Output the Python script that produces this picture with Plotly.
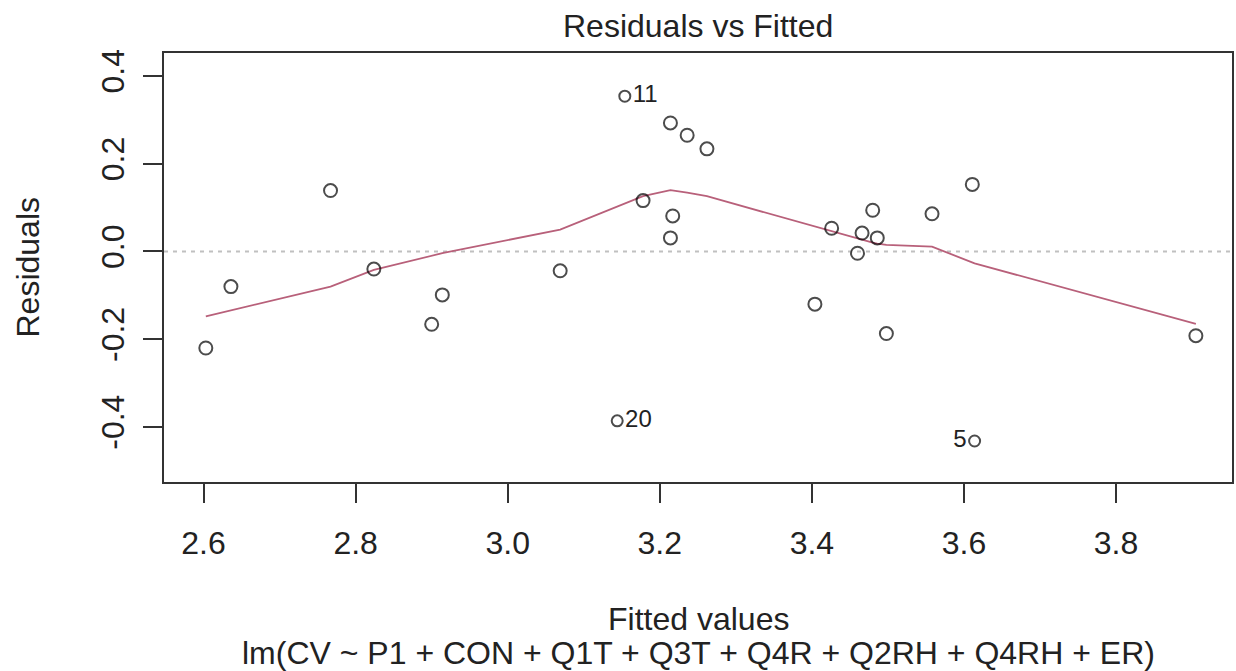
import plotly.graph_objects as go

# ---- data ----
fitted = [2.603, 2.636, 2.767, 2.824, 2.900, 2.914, 3.069, 3.144, 3.154, 3.178,
          3.214, 3.217, 3.214, 3.236, 3.262, 3.404, 3.426, 3.460, 3.466, 3.480,
          3.486, 3.498, 3.558, 3.611, 3.614, 3.905]
residuals = [-0.220, -0.080, 0.139, -0.040, -0.166, -0.099, -0.044, -0.386, 0.354, 0.116,
             0.293, 0.081, 0.031, 0.265, 0.234, -0.120, 0.053, -0.004, 0.042, 0.094,
             0.031, -0.187, 0.086, 0.153, -0.432, -0.192]
point_ids = ["", "", "", "", "", "", "", "20", "11", "",
             "", "", "", "", "", "", "", "", "", "",
             "", "", "", "", "5", ""]
smooth_y = [-0.148, -0.134, -0.080, -0.042, -0.009, -0.004, 0.050, 0.102, 0.109, 0.126,
            0.140, 0.140, 0.139, 0.134, 0.126, 0.056, 0.046, 0.029, 0.027, 0.020,
            0.018, 0.015, 0.011, -0.025, -0.027, -0.165]
x_ticks = [2.6, 2.8, 3.0, 3.2, 3.4, 3.6, 3.8]
x_tick_labels = ["2.6", "2.8", "3.0", "3.2", "3.4", "3.6", "3.8"]
y_ticks = [-0.4, -0.2, 0.0, 0.2, 0.4]
y_tick_labels = ["-0.4", "-0.2", "0.0", "0.2", "0.4"]
title = "Residuals vs Fitted"
x_title = "Fitted values"
x_subtitle = "lm(CV ~ P1 + CON + Q1T + Q3T + Q4R + Q2RH + Q4RH + ER)"
y_title = "Residuals"

FONT = "Liberation Sans, Arial, sans-serif"
INK = "#222222"
W, H = 1236, 671
L, R, T, B = 164, 4, 53, 189
plot_h = H - T - B

smooth_x = sorted(fitted)

fig = go.Figure()

# zero reference line
fig.add_shape(type="line", xref="paper", yref="y", x0=0, x1=1, y0=0, y1=0,
              line=dict(color="#C0C0C0", width=2, dash="4px,5px"), layer="below")

# smoother
fig.add_trace(go.Scatter(x=smooth_x, y=smooth_y, mode="lines",
                         line=dict(color="#B8607A", width=1.8),
                         hoverinfo="skip", showlegend=False))

# points
sizes = [11 if t else 13 for t in point_ids]
positions = ["middle left" if (t and x > 3.4) else "middle right" for t, x in zip(point_ids, fitted)]
fig.add_trace(go.Scatter(x=fitted, y=residuals, mode="markers+text",
                         text=point_ids, textposition=positions,
                         textfont=dict(family=FONT, size=24, color=INK),
                         marker=dict(symbol="circle-open", size=sizes, color="black",
                                     line=dict(width=2, color="black")),
                         showlegend=False))

axis_common = dict(showgrid=False, zeroline=False, showline=True, mirror=True,
                   automargin=False,
                   linecolor="#333333", linewidth=2, ticks="outside", ticklen=19,
                   tickwidth=2, tickcolor="#333333",
                   tickfont=dict(family=FONT, size=32, color=INK))

fig.update_xaxes(range=[2.548, 3.9525], tickvals=x_ticks, ticktext=x_tick_labels,
                 ticklabelstandoff=13, **axis_common)
fig.update_yaxes(range=[-0.5255, 0.4525], tickvals=y_ticks, ticktext=y_tick_labels,
                 tickangle=-90, ticklabelstandoff=6, **axis_common)

def py(pixel_y):
    # convert a page pixel y to paper y of the plot area
    return (H - B - pixel_y) / plot_h

annos = [
    dict(text=title, x=0.5, y=py(26)),
    dict(text=x_title, x=0.5, y=py(619)),
    dict(text=x_subtitle, x=0.5, y=py(653)),
]
for a in annos:
    fig.add_annotation(xref="paper", yref="paper", x=a["x"], y=a["y"], text=a["text"],
                       showarrow=False, xanchor="center", yanchor="middle",
                       font=dict(family=FONT, size=32, color=INK))
fig.add_annotation(xref="paper", yref="paper", x=(27 - L) / (W - L - R), y=0.5,
                   text=y_title, textangle=-90, showarrow=False,
                   xanchor="center", yanchor="middle",
                   font=dict(family=FONT, size=32, color=INK))

fig.update_layout(width=W, height=H, margin=dict(l=L, r=R, t=T, b=B, autoexpand=False),
                  paper_bgcolor="white", plot_bgcolor="white")

# remove the browser's default 8px page margin so the figure sits at the window origin
fig.write_html("out.html", config={"displayModeBar": False},
               post_script="document.body.style.margin='0';")
